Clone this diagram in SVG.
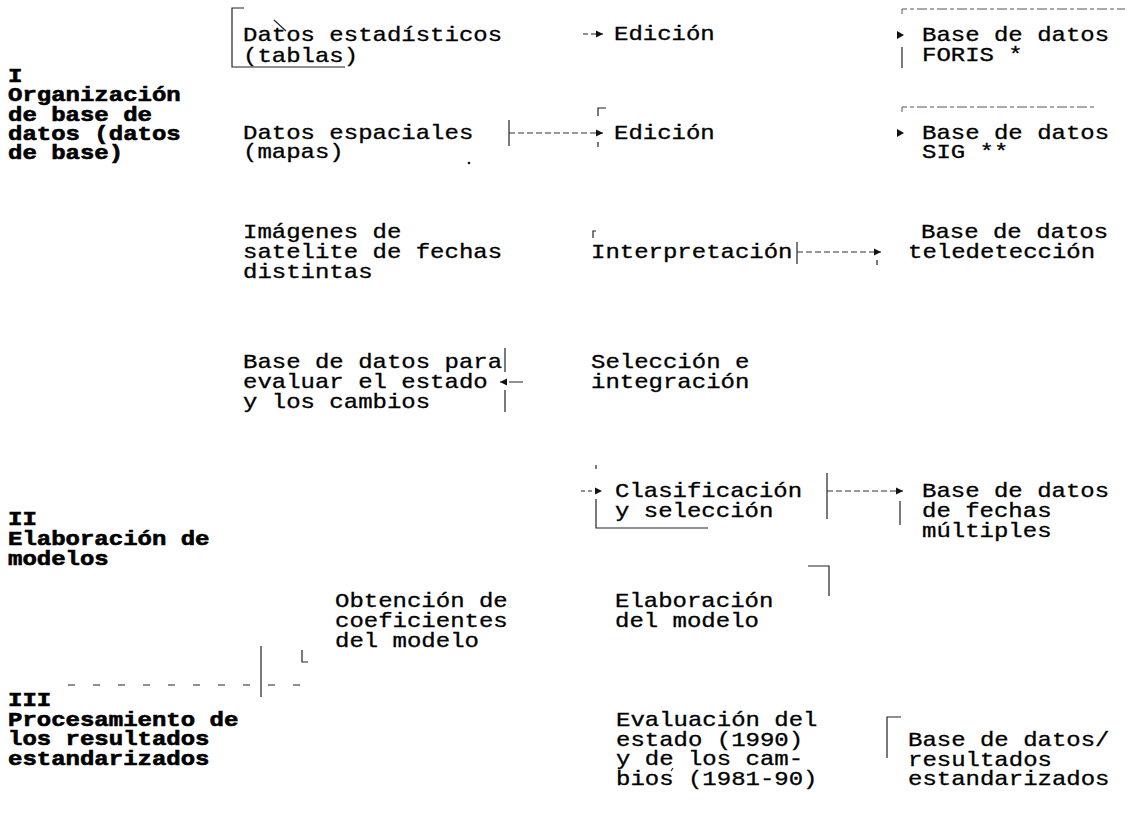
<svg xmlns="http://www.w3.org/2000/svg" width="1129" height="816" viewBox="0 0 1129 816">
<style>
.t{font-family:"Liberation Mono","DejaVu Sans Mono",monospace;font-size:20px;fill:#000;stroke:#000;stroke-width:0.3}
.b{font-weight:bold;stroke-width:0.6}
.ln{stroke:#222;stroke-width:1.2;fill:none}
.dl{stroke:#333;stroke-width:1.1;fill:none;stroke-dasharray:6 3}
.fd{stroke:#555;stroke-width:1;fill:none;stroke-dasharray:10 3 4 3}
.ah{fill:#111}
</style>
<defs>
<marker id="arr" markerWidth="8" markerHeight="8" refX="7" refY="4" orient="auto" markerUnits="userSpaceOnUse">
<path d="M0,0.5 L7,4 L0,7.5 Z" fill="#111"/>
</marker>
</defs>
<rect width="1129" height="816" fill="#fff"/>

<g id="sec1"><text class="t b" transform="translate(8,82) scale(1.2,1)"><tspan x="0" y="0">I</tspan><tspan x="0" y="19.3">Organización</tspan><tspan x="0" y="38.6">de base de</tspan><tspan x="0" y="57.9">datos (datos</tspan><tspan x="0" y="77.2">de base)</tspan></text></g>
<g id="datos_est"><text class="t" transform="translate(243,41) scale(1.2,1)"><tspan x="0" y="0">Datos estadísticos</tspan><tspan x="0" y="21">(tablas)</tspan></text></g>
<g id="edicion1"><text class="t" transform="translate(614,40) scale(1.2,1)"><tspan x="0" y="0">Edición</tspan></text></g>
<g id="foris"><text class="t" transform="translate(922,41) scale(1.2,1)"><tspan x="0" y="0">Base de datos</tspan><tspan x="0" y="20">FORIS *</tspan></text></g>
<g id="datos_esp"><text class="t" transform="translate(243,139) scale(1.2,1)"><tspan x="0" y="0">Datos espaciales</tspan><tspan x="0" y="19.5">(mapas)</tspan></text></g>
<g id="edicion2"><text class="t" transform="translate(614,139) scale(1.2,1)"><tspan x="0" y="0">Edición</tspan></text></g>
<g id="sig"><text class="t" transform="translate(922,139) scale(1.2,1)"><tspan x="0" y="0">Base de datos</tspan><tspan x="0" y="19.5">SIG **</tspan></text></g>
<g id="imagenes"><text class="t" transform="translate(243,238) scale(1.2,1)"><tspan x="0" y="0">Imágenes de</tspan><tspan x="0" y="20">satelite de fechas</tspan><tspan x="0" y="40">distintas</tspan></text></g>
<g id="interp"><text class="t" transform="translate(591,258) scale(1.2,1)"><tspan x="0" y="0">Interpretación</tspan></text></g>
<g id="tele"><text class="t" transform="translate(921,238) scale(1.2,1)"><tspan x="0" y="0">Base de datos</tspan></text><text class="t" transform="translate(908,258) scale(1.2,1)"><tspan x="0" y="0">teledetección</tspan></text></g>
<g id="bd_eval"><text class="t" transform="translate(243,368) scale(1.2,1)"><tspan x="0" y="0">Base de datos para</tspan><tspan x="0" y="20">evaluar el estado</tspan><tspan x="0" y="40">y los cambios</tspan></text></g>
<g id="seleccion"><text class="t" transform="translate(591,368) scale(1.2,1)"><tspan x="0" y="0">Selección e</tspan><tspan x="0" y="20">integración</tspan></text></g>
<g id="sec2"><text class="t b" transform="translate(8,525) scale(1.2,1)"><tspan x="0" y="0">II</tspan><tspan x="0" y="20">Elaboración de</tspan><tspan x="0" y="40">modelos</tspan></text></g>
<g id="clasif"><text class="t" transform="translate(615,497) scale(1.2,1)"><tspan x="0" y="0">Clasificación</tspan><tspan x="0" y="20">y selección</tspan></text></g>
<g id="fechas"><text class="t" transform="translate(922,497) scale(1.2,1)"><tspan x="0" y="0">Base de datos</tspan><tspan x="0" y="20">de fechas</tspan><tspan x="0" y="40">múltiples</tspan></text></g>
<g id="obtencion"><text class="t" transform="translate(335,607) scale(1.2,1)"><tspan x="0" y="0">Obtención de</tspan><tspan x="0" y="20">coeficientes</tspan><tspan x="0" y="40">del modelo</tspan></text></g>
<g id="elaboracion"><text class="t" transform="translate(615,607) scale(1.2,1)"><tspan x="0" y="0">Elaboración</tspan><tspan x="0" y="20">del modelo</tspan></text></g>
<g id="sec3"><text class="t b" transform="translate(8,706) scale(1.2,1)"><tspan x="0" y="0">III</tspan><tspan x="0" y="19.7">Procesamiento de</tspan><tspan x="0" y="39.4">los resultados</tspan><tspan x="0" y="59.1">estandarizados</tspan></text></g>
<g id="evaluacion"><text class="t" transform="translate(616,726) scale(1.2,1)"><tspan x="0" y="0">Evaluación del</tspan><tspan x="0" y="19.7">estado (1990)</tspan><tspan x="0" y="39.4">y de los cam-</tspan><tspan x="0" y="59.1">bios (1981-90)</tspan></text></g>
<g id="resultados"><text class="t" transform="translate(908,746) scale(1.2,1)"><tspan x="0" y="0">Base de datos/</tspan><tspan x="0" y="19.7">resultados</tspan><tspan x="0" y="39.4">estandarizados</tspan></text></g>

<g id="connectors">
<!-- box around Datos estadisticos -->
<path class="ln" d="M244,8 H232 V67 H345"/>
<line class="ln" x1="274" y1="20" x2="286" y2="31"/>
<!-- -> Edicion 1 -->
<line class="ln" x1="583" y1="34" x2="603" y2="34" stroke-dasharray="5 3" marker-end="url(#arr)"/>
<!-- FORIS bracket -->
<path class="fd" d="M902,14 V9 H1125"/>
<line class="ln" x1="902" y1="47" x2="902" y2="68"/>
<path class="ah" d="M897,31 L904,35 L897,39 Z"/>
<!-- Datos espaciales -> Edicion 2 -->
<line class="ln" x1="509" y1="120" x2="509" y2="146"/>
<line class="dl" x1="509" y1="133" x2="603" y2="133" marker-end="url(#arr)"/>
<path class="ln" d="M598,116 V108 H606"/>
<line class="ln" x1="598" y1="142" x2="598" y2="147"/>
<circle cx="469" cy="163" r="1.3" fill="#111"/>
<!-- SIG bracket -->
<path class="fd" d="M902,112 V107 H1095"/>
<path class="ah" d="M897,129 L904,133 L897,137 Z"/>
<!-- Interpretacion -> teledeteccion -->
<path class="ln" d="M593,238 V231 H596"/>
<line class="ln" x1="797" y1="242" x2="797" y2="264"/>
<line class="dl" x1="797" y1="252" x2="881" y2="252" marker-end="url(#arr)"/>
<line class="ln" x1="877" y1="260" x2="877" y2="265"/>
<!-- Seleccion -> Base de datos para evaluar -->
<line class="ln" x1="505" y1="348" x2="505" y2="372"/>
<line class="ln" x1="505" y1="390" x2="505" y2="412"/>
<line class="ln" x1="523" y1="382" x2="500" y2="382" stroke-dasharray="14 3" marker-end="url(#arr)"/>
<!-- -> Clasificacion -->
<line class="ln" x1="596" y1="465" x2="596" y2="469"/>
<line class="ln" x1="581" y1="491" x2="602" y2="491" stroke-dasharray="4 3" marker-end="url(#arr)"/>
<path class="ln" d="M596,499 V528 H708"/>
<!-- Clasificacion -> fechas multiples -->
<line class="ln" x1="827" y1="473" x2="827" y2="519"/>
<line class="dl" x1="827" y1="491" x2="903" y2="491" stroke-dasharray="12 18 14 3" marker-end="url(#arr)"/>
<line class="ln" x1="900" y1="501" x2="900" y2="525"/>
<!-- Elaboracion bracket -->
<path class="ln" d="M808,566 H829 V596"/>
<!-- coeficientes / dashed divider -->
<line class="ln" x1="261" y1="646" x2="261" y2="697"/>
<path class="ln" d="M302,650 V662 H308"/>
<line class="ln" x1="68" y1="685" x2="308" y2="685" stroke-dasharray="7 18"/>
<!-- bottom right bracket -->
<path class="ln" d="M901,717 H887 V758"/>
<line class="ln" x1="671" y1="771" x2="673" y2="768"/>
</g>
</svg>
